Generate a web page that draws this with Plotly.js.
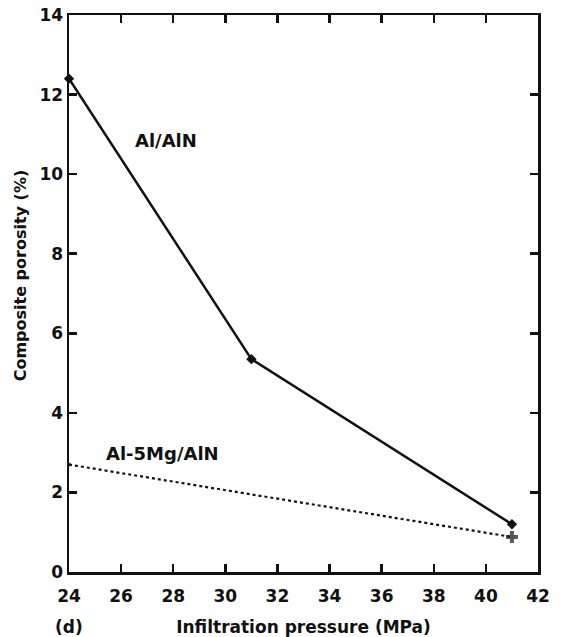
<!DOCTYPE html>
<html>
<head>
<meta charset="utf-8">
<script src="https://cdn.plot.ly/plotly-3.0.1.min.js"></script>
<style>
  html, body { margin: 0; padding: 0; background: #fff; }
  #chart { width: 561px; height: 637px; }
</style>
</head>
<body>
<div id="chart"></div>
<script>
// Infiltration pressure (MPa) vs composite porosity (%)
const pressureAlAlN = [24, 31, 41];
const porosityAlAlN = [12.4, 5.35, 1.2];

const pressureAlMg = [24, 41];
const porosityAlMg = [2.7, 0.88];

const xTicks = [24, 26, 28, 30, 32, 34, 36, 38, 40, 42];
const yTicks = [0, 2, 4, 6, 8, 10, 12, 14];

const fontFam = '"DejaVu Sans", "Liberation Sans", Arial, sans-serif';
const ink = '#111';

const traces = [
  {
    x: pressureAlAlN, y: porosityAlAlN,
    mode: 'lines+markers', type: 'scatter',
    line: { color: ink, width: 2.5 },
    marker: { symbol: 'diamond', size: 8, color: ink },
    cliponaxis: false, showlegend: false
  },
  {
    x: pressureAlMg, y: porosityAlMg,
    mode: 'lines+markers', type: 'scatter',
    line: { color: ink, width: 2.2, dash: 'dot' },
    marker: { symbol: ['circle', 'cross'], size: [4, 10], color: ink,
              line: { width: 0 } },
    cliponaxis: false, showlegend: false
  }
];

const axisCommon = {
  showgrid: false, zeroline: false,
  showline: true, linecolor: ink, linewidth: 2.5,
  mirror: 'ticks', ticks: 'inside', ticklen: 8, tickwidth: 2.5, tickcolor: ink,
  tickfont: { family: fontFam, size: 17, color: ink, weight: 'bold' }
};

const layout = {
  width: 561, height: 637,
  margin: { l: 69, r: 23, t: 15, b: 65 },
  paper_bgcolor: '#fff', plot_bgcolor: '#fff',
  xaxis: Object.assign({}, axisCommon, {
    range: [24, 42], tickvals: xTicks, ticktext: xTicks.map(String),
    ticklabelstandoff: 7,
    title: { text: 'Infiltration pressure (MPa)', standoff: 16,
             font: { family: fontFam, size: 17, color: ink, weight: 'bold' } }
  }),
  yaxis: Object.assign({}, axisCommon, {
    range: [0, 14], tickvals: yTicks, ticktext: yTicks.map(String)
  }),
  annotations: [
    { x: -0.104, y: 0.533, xref: 'paper', yref: 'paper', text: 'Composite porosity (%)',
      textangle: -90, showarrow: false, xanchor: 'center', yanchor: 'middle',
      font: { family: fontFam, size: 16, color: ink, weight: 'bold' } },
    { x: 27.72, y: 10.85, xref: 'x', yref: 'y', text: 'Al/AlN', showarrow: false,
      font: { family: fontFam, size: 18, color: ink, weight: 'bold' } },
    { x: 27.59, y: 2.99, xref: 'x', yref: 'y', text: 'Al-5Mg/AlN', showarrow: false,
      font: { family: fontFam, size: 18, color: ink, weight: 'bold' } },
    { x: 0.0, y: -0.098, xref: 'paper', yref: 'paper', text: '(d)', showarrow: false,
      xanchor: 'center', yanchor: 'middle',
      font: { family: fontFam, size: 17, color: ink, weight: 'bold' } }
  ]
};

Plotly.newPlot('chart', traces, layout, { displayModeBar: false, staticPlot: true });
</script>
</body>
</html>
